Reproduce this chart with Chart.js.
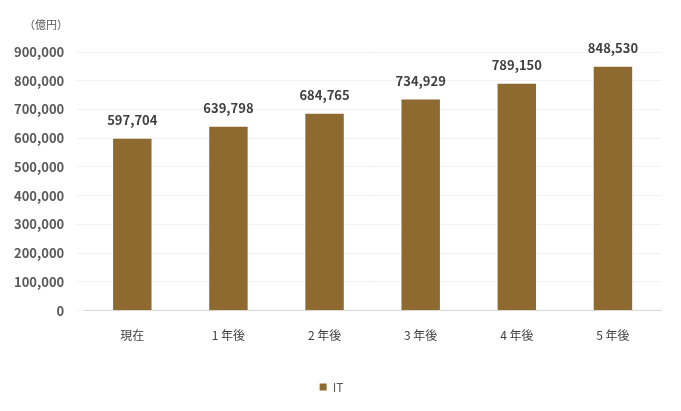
<!DOCTYPE html>
<html>
<head>
<meta charset="utf-8">
<script src="https://cdn.jsdelivr.net/npm/chart.js@4"></script>
<style>
  body { margin: 0; background: #fff; }
  #wrap { position: relative; width: 681px; height: 411px; }
  #unit { position: absolute; left: 24px; top: 16px; font: 11px "Noto Sans CJK JP"; color: #595959; }
</style>
</head>
<body>
<div id="wrap">
  <div id="unit">（億円）</div>
  <canvas id="myChart" width="681" height="411"></canvas>
</div>
<script>
const categories = ["現在", "1 年後", "2 年後", "3 年後", "4 年後", "5 年後"];
const itValues = [597704, 639798, 684765, 734929, 789150, 848530];
const seriesName = "IT";

const valueLabels = {
  id: "valueLabels",
  afterDatasetsDraw(chart) {
    const ctx = chart.ctx;
    const meta = chart.getDatasetMeta(0);
    ctx.save();
    ctx.font = "bold 13px 'Noto Sans CJK JP'";
    ctx.fillStyle = "#404040";
    ctx.textAlign = "center";
    ctx.textBaseline = "bottom";
    meta.data.forEach((bar, i) => {
      ctx.fillText(itValues[i].toLocaleString("en-US"), bar.x, bar.y - 12);
    });
    ctx.restore();
  }
};

new Chart(document.getElementById("myChart"), {
  type: "bar",
  data: {
    labels: categories,
    datasets: [{
      label: seriesName,
      data: itValues,
      backgroundColor: "#8E6A30",
      categoryPercentage: 0.8,
      barPercentage: 0.5
    }]
  },
  options: {
    responsive: false,
    animation: false,
    layout: { padding: { left: 2, right: 20, top: 52, bottom: 8 } },
    plugins: {
      legend: {
        position: "bottom",
        labels: {
          boxWidth: 7, boxHeight: 7, padding: 28,
          color: "#595959",
          font: { family: "Noto Sans CJK JP", size: 12 }
        }
      },
      tooltip: { enabled: false }
    },
    scales: {
      x: {
        grid: { display: false },
        border: { color: "#d9d9d9" },
        ticks: { color: "#404040", padding: 10, font: { family: "Noto Sans CJK JP", size: 12 } }
      },
      y: {
        min: 0, max: 900000,
        grid: { color: "#f2f2f2" },
        border: { display: false },
        ticks: {
          stepSize: 100000,
          color: "#595959",
          padding: 12,
          font: { family: "Noto Sans CJK JP", size: 13, weight: "bold" },
          callback: v => v.toLocaleString("en-US")
        }
      }
    }
  },
  plugins: [valueLabels]
});
</script>
</body>
</html>
